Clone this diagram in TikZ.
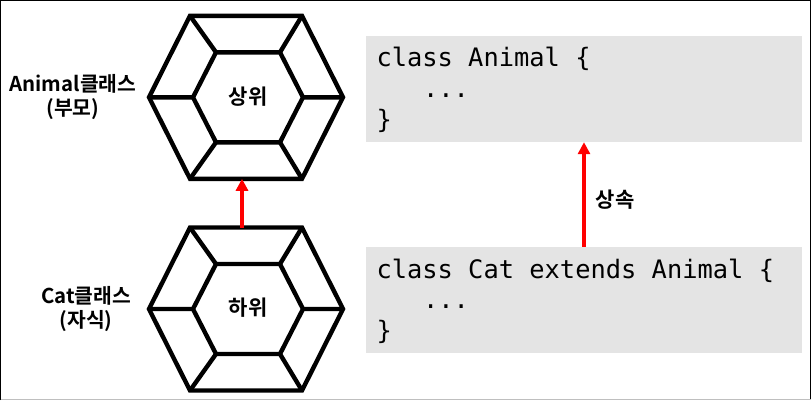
\documentclass[tikz,border=0pt]{standalone}
\usepackage{fontspec}
\setmainfont{Noto Sans CJK KR}[BoldFont={* Bold}]
\newfontfamily\codefont{DejaVu Sans Mono}
\usetikzlibrary{arrows.meta}
\tikzset{
  x=1pt,y=-1pt,
  hexline/.style={line width=4.4pt,line join=miter,black},
  hexa/.pic={
    \coordinate (-t) at (-4,-81.5);
    \coordinate (-b) at (-4,81.5);
    \draw[hexline] (-56,-81.5)--(56,-81.5)--(97,0)--(56,81.5)--(-56,81.5)--(-97,0)--cycle;
    \draw[hexline] (-30,-45)--(34,-45)--(57,0)--(34,45)--(-30,45)--(-53,0)--cycle;
    \draw[hexline] (-56,-81.5)--(-30,-45) (56,-81.5)--(34,-45) (97,0)--(57,0)
                   (56,81.5)--(34,45) (-56,81.5)--(-30,45) (-97,0)--(-53,0);
  },
  lbl/.style={font=\fontsize{20.4pt}{24.5pt}\selectfont\bfseries,align=center,inner sep=0pt,text=black},
  inlbl/.style={font=\fontsize{21pt}{24pt}\selectfont\bfseries,inner sep=0pt,text=black},
  codebox/.style={fill=black!10.5,draw=none,minimum width=436pt,minimum height=106pt,inner sep=0pt},
  codetxt/.style={font=\fontsize{25.4pt}{30.8pt}\codefont,align=left,inner sep=0pt,text=black},
  redarrow/.style={draw=red,line width=4pt,-{Triangle[length=12pt,width=12pt]},shorten >=0pt},
}
\begin{document}
\begin{tikzpicture}
\useasboundingbox (0,0) rectangle (812,400);
\fill[white] (0,0) rectangle (812,400);
\draw[black,line width=1.4pt] (0.7,400) -- (0.7,0.7) -- (810.7,0.7) -- (810.7,399);
\draw[black!25,line width=1pt] (0.7,399.5) -- (810.7,399.5);

\pic (hA) at (246,97.3) {hexa};
\pic (hB) at (246,309) {hexa};
\node[inlbl] (upper) at (248,97) {상위};
\node[inlbl] (lower) at (248,308) {하위};
\node[lbl] (lA) at (73,97) {Animal클래스\\(부모)};
\node[lbl] (lB) at (86,309) {Cat클래스\\(자식)};

\node[codebox] (boxA) at (584,89) {};
\node[codebox] (boxB) at (584,300) {};
\node[codetxt,anchor=north west] (codeA) at (376.3,47) {class Animal \{\\\hspace{46.5pt}...\\\}};
\node[codetxt,anchor=north west] (codeB) at (376.3,258.5) {class Cat extends Animal \{\\\hspace{46.5pt}...\\\}};

\draw[redarrow] (hB-t) -- (hA-b);
\draw[redarrow] (boxB.north) -- (boxA.south);
\node[inlbl] (inh) at (615,199.5) {상속};
\end{tikzpicture}
\end{document}
